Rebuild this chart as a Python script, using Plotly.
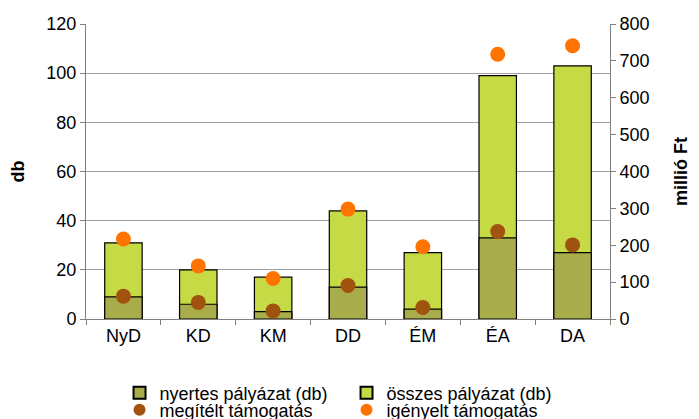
import plotly.graph_objects as go

# regions
regiok = ["NyD", "KD", "KM", "DD", "ÉM", "ÉA", "DA"]

# pályázatok száma (db)
osszes = [31, 20, 17, 44, 27, 99, 103]
nyertes = [9, 6, 3, 13, 4, 33, 27]

# támogatás (millió Ft)
igenyelt = [217, 144, 110, 298, 196, 718, 741]
megitelt = [62, 45, 22, 91, 31, 237, 201]

fig = go.Figure()

fig.add_trace(go.Bar(
    x=regiok, y=osszes, name="összes pályázat (db)",
    marker=dict(color="#c6da45", line=dict(color="black", width=1.2)),
    width=0.5, legendrank=2,
))
fig.add_trace(go.Bar(
    x=regiok, y=nyertes, name="nyertes pályázat (db)",
    marker=dict(color="#a9ac4a", line=dict(color="black", width=1.2)),
    width=0.5, legendrank=1,
))
fig.add_trace(go.Scatter(
    x=regiok, y=megitelt, name="megítélt támogatás", yaxis="y2",
    mode="markers", marker=dict(color="#a0520f", size=15),
    legend="legend2", legendrank=1,
))
fig.add_trace(go.Scatter(
    x=regiok, y=igenyelt, name="igényelt támogatás", yaxis="y2",
    mode="markers", marker=dict(color="#ff7300", size=15),
    legend="legend2", legendrank=2,
))

font = "Liberation Sans, Arial, sans-serif"
leg = dict(
    orientation="h", xref="container", yref="container",
    x=0.171, xanchor="left", yanchor="middle",
    entrywidth=182, entrywidthmode="pixels",
    font=dict(size=18), itemsizing="constant", bgcolor="rgba(0,0,0,0)",
)
fig.update_layout(
    width=699, height=419,
    margin=dict(l=86, r=72, t=24, b=100),
    plot_bgcolor="white", paper_bgcolor="white",
    barmode="overlay",
    font=dict(family=font, size=18, color="black"),
    xaxis=dict(
        showline=True, linecolor="#808080", linewidth=1,
        ticks="outside", ticklen=5, tickcolor="#808080",
        tickson="boundaries", showgrid=False,
    ),
    yaxis=dict(
        range=[0, 120], dtick=20,
        title=dict(text="<b>db</b>", font=dict(size=18), standoff=17),
        showline=True, linecolor="#808080", linewidth=1,
        ticks="outside", ticklen=5, tickcolor="#808080",
        gridcolor="#a0a0a0", gridwidth=1, zeroline=False,
    ),
    yaxis2=dict(
        range=[0, 800], dtick=100, overlaying="y", side="right",
        title=dict(text="<b>millió Ft</b>", font=dict(size=18), standoff=25),
        showline=True, linecolor="#808080", linewidth=1,
        ticks="outside", ticklen=5, tickcolor="#808080",
        showgrid=False, zeroline=False,
    ),
    legend=dict(leg, y=1 - 393 / 419),
    legend2=dict(leg, y=1 - 410 / 419),
)

# page body has a default 8px margin, drop it
fig.write_html("out.html", config={"displayModeBar": False},
               post_script="document.body.style.margin='0';")
